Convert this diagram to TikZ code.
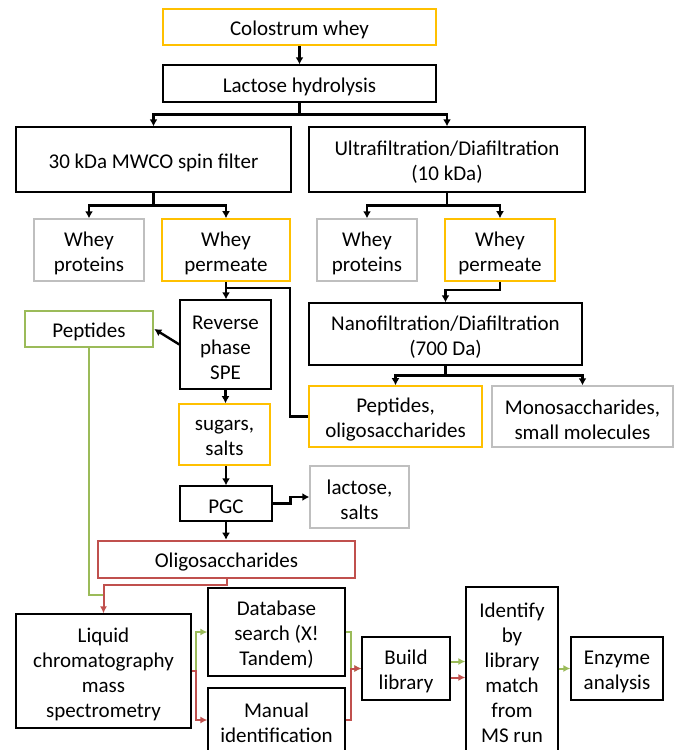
\documentclass[tikz,border=0pt]{standalone}
\usepackage{fontspec}
\setmainfont{Carlito}
\usetikzlibrary{arrows.meta}
\definecolor{cyel}{HTML}{FFC000}
\definecolor{cgray}{HTML}{BFBFBF}
\definecolor{cgreen}{HTML}{9BBB59}
\definecolor{cred}{HTML}{C0504D}
\tikzset{
  box/.style={draw=black, line width=1.3pt, inner sep=0pt},
  txt/.style={inner sep=0pt, align=center, font=\fontsize{21}{25}\selectfont, text=black},
  ybox/.style={box, draw=cyel, line width=1.6pt},
  gbox/.style={box, draw=cgray, line width=1.4pt},
  grbox/.style={box, draw=cgreen, line width=2.6pt},
  rbox/.style={box, draw=cred, line width=2.6pt},
  conn/.style={draw=black, line width=2.4pt},
  arr/.style={conn, -{Latex[length=7pt,width=8pt]}},
  gline/.style={draw=cgreen, line width=2pt},
  garr/.style={gline, -{Latex[length=7pt,width=7pt]}},
  rline/.style={draw=cred, line width=2pt},
  rarr/.style={rline, -{Latex[length=7pt,width=7pt]}},
}
\newcommand{\bx}[7]{\node[#1, minimum width=#5pt, minimum height=#6pt] (#2) at (#3,#4) {};
  \node[txt] (#2-t) at ([yshift=-3pt]#2.center) {#7};}
\begin{document}
\begin{tikzpicture}[x=1pt,y=-1pt]
\useasboundingbox (0,0) rectangle (680,750);
\bx{ybox}{colo}{299.5}{27}{273}{36}{Colostrum whey}
\bx{box}{lact}{299.5}{83.5}{273}{37}{Lactose hydrolysis}
\bx{box}{spin}{153.5}{159.5}{275}{65}{30 kDa MWCO spin filter}
\bx{box}{ultra}{447}{159.5}{276}{65}{Ultrafiltration/Diafiltration\\(10 kDa)}
\bx{gbox}{wpa}{89}{250}{110}{62}{Whey\\proteins}
\bx{ybox}{wperma}{226}{250}{128}{62}{Whey\\permeate}
\bx{gbox}{wpb}{367}{250}{100}{62}{Whey\\proteins}
\bx{ybox}{wpermb}{500}{250}{110}{62}{Whey\\permeate}
\bx{grbox}{pept}{89}{329}{128}{36}{Peptides}
\bx{box}{rp}{225.5}{344.5}{91}{89}{Reverse\\phase\\SPE}
\bx{box}{nano}{445.5}{334}{273}{62}{Nanofiltration/Diafiltration\\(700 Da)}
\bx{ybox}{sugars}{224.5}{434.5}{91}{61}{sugars,\\salts}
\bx{ybox}{pepol}{395.5}{416.5}{173}{61}{Peptides,\\oligosaccharides}
\bx{gbox}{mono}{582.5}{416.5}{181}{61}{Monosaccharides,\\small molecules}
\bx{box}{pgc}{226}{503.5}{92}{35}{PGC}
\bx{gbox}{lacs}{359.5}{497}{99}{62}{lactose,\\salts}
\bx{rbox}{oligo}{226.5}{559.5}{257}{37}{Oligosaccharides}
\bx{box}{lcms}{103.5}{671}{175}{114}{Liquid\\chromatography\\mass\\spectrometry}
\bx{box}{db}{276.5}{632}{137}{88}{Database\\search (X!\\Tandem)}
\bx{box}{man}{276.5}{720}{137}{64}{Manual\\identification}
\bx{box}{build}{406}{668.5}{88}{63}{Build\\library}
\bx{box}{ident}{512}{670}{92}{166}{Identify\\by\\library\\match\\from\\MS run}
\bx{box}{enz}{617}{668.5}{92}{63}{Enzyme\\analysis}
% black connectors
\draw[arr] (colo.south) -- (lact.north);
\draw[arr] (lact.south) -- ++(0,12) -| (spin.north);
\draw[arr] (lact.south) -- ++(0,12) -| (ultra.north);
\draw[arr] (spin.south) -- ++(0,13) -| (wpa.north);
\draw[arr] (spin.south) -- ++(0,13) -| (wperma.north);
\draw[arr] (ultra.south) -- ++(0,13) -| (wpb.north);
\draw[arr] (ultra.south) -- ++(0,13) -| (wpermb.north);
\draw[arr] (wperma.south) -- (wperma.south |- rp.north);
\draw[conn] (wperma.south) -- ++(0,6) -- ++(64,0) |- (pepol.west);
\draw[arr] (rp.west) -- (pept.east);
\draw[arr] (rp.south) -- (rp.south |- sugars.north);
\draw[arr] (wpermb.south) -- ++(0,8) -| (nano.north);
\draw[arr] (nano.south) -- ++(0,10) -| (pepol.north);
\draw[arr] (nano.south) -- ++(0,10) -| (mono.north);
\draw[arr] (pgc.north |- sugars.south) -- (pgc.north);
\draw[arr] (pgc.east) -- ++(18,0) |- (lacs.west);
\draw[arr] (pgc.south) -- (pgc.south |- oligo.north);
% coloured connectors
\draw[gline] (pept.south) |- ([yshift=18pt]lcms.north);
\draw[rarr] (oligo.south) -- ++(0,6) -| (lcms.north);
\draw[garr] (lcms.east) -- ++(4,0) |- (db.west);
\draw[rarr] (lcms.east) -- ++(4,0) |- (man.west);
\draw[garr] (db.east) -- ++(5,0) |- (build.west);
\draw[rarr] (man.east) -- ++(5,0) |- (build.west);
\draw[garr] ([yshift=7pt]build.east) -- ([yshift=7pt]build.east -| ident.west);
\draw[rarr] ([yshift=-9pt]build.east) -- ([yshift=-9pt]build.east -| ident.west);
\draw[garr] (enz.west -| ident.east) -- (enz.west);
\end{tikzpicture}
\end{document}
